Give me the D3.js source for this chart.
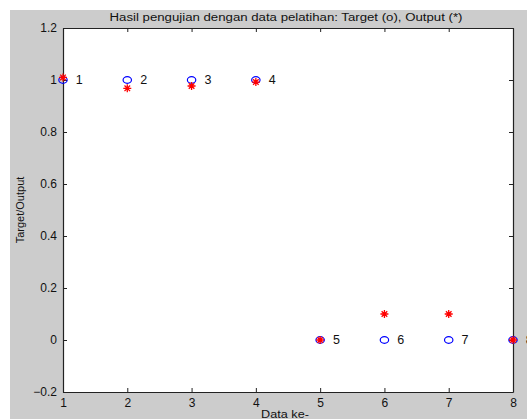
<!DOCTYPE html>
<html><head><meta charset="utf-8">
<script src="https://cdn.jsdelivr.net/npm/d3@7"></script>
<style>body{margin:0;background:#fff}svg{display:block}</style>
</head><body>
<svg id="c" width="527" height="419"></svg>
<script>
const dataIndex = [1,2,3,4,5,6,7,8];
const target = [1,1,1,1,0,0,0,0];
const output = [1.01,0.968,0.977,0.992,0.0,0.1,0.1,0.0];
const pointLabels = ["1","2","3","4","5","6","7","8"];
const xTicks = [1,2,3,4,5,6,7,8];
const yTicks = [-0.2,0,0.2,0.4,0.6,0.8,1,1.2];
const titleText = "Hasil pengujian dengan data pelatihan: Target (o), Output (*)";
const xLabel = "Data ke-";
const yLabel = "Target/Output";

const svg = d3.select("#c");
const W = 527, H = 419;
const L = 63, R = 513, T = 28, B = 392;
const font = "'Liberation Sans', Arial, sans-serif";

svg.append("rect").attr("x",10).attr("y",10).attr("width",W-10).attr("height",H-10).attr("fill","#cccccc");
svg.append("rect").attr("x",L).attr("y",T).attr("width",R-L).attr("height",B-T).attr("fill","#fff");

const x = d3.scaleLinear().domain([1,8]).range([L,R]);
const y = d3.scaleLinear().domain([-0.2,1.2]).range([B,T]);

const fmt = d => d3.format("")(+d.toFixed(1));

function styleAxis(g){
  g.select(".domain").attr("stroke","#222").attr("stroke-width",1.2);
  g.selectAll(".tick line").attr("stroke","#222");
  g.selectAll("text").attr("font-family",font).attr("font-size",12).attr("fill","#111");
}
svg.append("g").attr("transform",`translate(0,${B})`)
  .call(d3.axisBottom(x).tickValues(xTicks).tickSizeInner(-4).tickSizeOuter(0).tickPadding(6).tickFormat(d3.format("d")))
  .call(styleAxis);
svg.append("g").attr("transform",`translate(0,${T})`)
  .call(d3.axisTop(x).tickValues(xTicks).tickSizeInner(-4).tickSizeOuter(0).tickFormat(""))
  .call(styleAxis);
svg.append("g").attr("transform",`translate(${L},0)`)
  .call(d3.axisLeft(y).tickValues(yTicks).tickSizeInner(-4).tickSizeOuter(0).tickPadding(6).tickFormat(fmt))
  .call(styleAxis);
svg.append("g").attr("transform",`translate(${R},0)`)
  .call(d3.axisRight(y).tickValues(yTicks).tickSizeInner(-4).tickSizeOuter(0).tickFormat(""))
  .call(styleAxis);

// targets (blue circles)
svg.append("g").selectAll("ellipse").data(dataIndex).join("ellipse")
  .attr("cx",(d,i)=>x(d)).attr("cy",(d,i)=>y(target[i]))
  .attr("rx",4.2).attr("ry",3.3).attr("fill","none").attr("stroke","#0000ff").attr("stroke-width",1.2);

// outputs (red stars)
const s = 4;
const starPath = `M${-s},0L${s},0M0,${-s}L0,${s}M${-s*0.7},${-s*0.7}L${s*0.7},${s*0.7}M${-s*0.7},${s*0.7}L${s*0.7},${-s*0.7}`;
svg.append("g").selectAll("path").data(dataIndex).join("path")
  .attr("transform",(d,i)=>`translate(${x(d)},${y(output[i])})`)
  .attr("d",starPath).attr("stroke","#ff0000").attr("stroke-width",1.3).attr("fill","none");

// point labels
svg.append("g").selectAll("text").data(dataIndex).join("text")
  .attr("x",(d,i)=>x(d+0.2)).attr("y",(d,i)=>y(target[i]))
  .attr("dy","0.35em").attr("font-family",font).attr("font-size",12.5).attr("fill","#111")
  .text((d,i)=>pointLabels[i]);

svg.append("text").attr("transform",`translate(${(L+R)/2-2},21) scale(1.15,1)`).attr("text-anchor","middle")
  .attr("font-family",font).attr("font-size",11.5).attr("fill","#111").text(titleText);
svg.append("text").attr("transform",`translate(${(L+R)/2-3},418) scale(1.1,1)`).attr("text-anchor","middle")
  .attr("font-family",font).attr("font-size",11.5).attr("fill","#111").text(xLabel);
svg.append("text").attr("transform",`translate(24,${(T+B)/2}) rotate(-90)`).attr("text-anchor","middle")
  .attr("font-family",font).attr("font-size",11).attr("fill","#111").text(yLabel);
</script>
</body></html>
